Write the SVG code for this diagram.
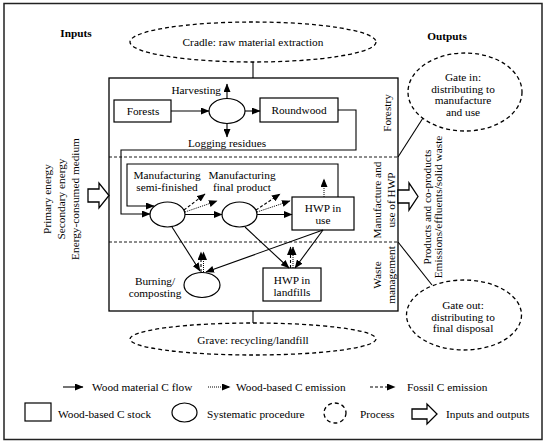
<svg xmlns="http://www.w3.org/2000/svg" width="550" height="444" viewBox="0 0 550 444" font-family="'Liberation Serif', 'Times New Roman', Times, serif">
<defs>
<marker id="ah" markerUnits="userSpaceOnUse" markerWidth="9" markerHeight="7" refX="8" refY="3.5" orient="auto">
<path d="M0,0 L8.5,3.5 L0,7 z" fill="#000"/>
</marker>
</defs>
<style>
text{font-family:'Liberation Serif','Times New Roman',Times,serif;font-size:11.3px;fill:#000}
.b{font-weight:bold}
.m{text-anchor:middle}
.box{fill:#fff;stroke:#000;stroke-width:1.2}
.proc{fill:#fff;stroke:#000;stroke-width:1.2}
.dash{fill:none;stroke:#000;stroke-width:1.3;stroke-dasharray:4,3}
.ln{fill:none;stroke:#000;stroke-width:1.1}
.fl{fill:none;stroke:#000;stroke-width:1.1;marker-end:url(#ah)}
.dot{fill:none;stroke:#000;stroke-width:1;stroke-dasharray:1,1;marker-end:url(#ah)}
.fos{fill:none;stroke:#000;stroke-width:1.1;stroke-dasharray:3,2;marker-end:url(#ah)}
.sec{fill:none;stroke:#000;stroke-width:0.9;stroke-dasharray:3,2}
.blk{fill:#fff;stroke:#000;stroke-width:1.3}
</style>
<rect x="0" y="0" width="550" height="444" fill="#fff"/>
<rect x="4" y="3.5" width="538" height="436" fill="none" stroke="#222" stroke-width="1.5"/>

<g id="frame">
<rect x="109" y="78" width="289" height="233" fill="none" stroke="#000" stroke-width="1.3"/>
<line class="sec" x1="109" y1="157" x2="398" y2="157"/>
<line class="sec" x1="109" y1="242" x2="398" y2="242"/>
</g>

<g id="labels">
<text class="b m" x="76" y="37">Inputs</text>
<text class="b m" x="447" y="40">Outputs</text>
<text class="m" transform="translate(51,199) rotate(-90)">Primary energy</text>
<text class="m" transform="translate(65,199) rotate(-90)">Secondary energy</text>
<text class="m" transform="translate(79,199) rotate(-90)">Energy-consumed medium</text>
<text class="m" transform="translate(391,113) rotate(-90)">Forestry</text>
<text class="m" transform="translate(381,200) rotate(-90)">Manufacture and</text>
<text class="m" transform="translate(395,200) rotate(-90)">use of HWP</text>
<text class="m" transform="translate(381,275) rotate(-90)">Waste</text>
<text class="m" transform="translate(394.5,275) rotate(-90)">management</text>
<text class="m" transform="translate(431,207) rotate(-90)">Products and co-products</text>
<text class="m" transform="translate(442,207) rotate(-90)">Emissions/effluents/solid waste</text>
</g>

<g id="cradle">
<ellipse class="dash" cx="253" cy="42" rx="123" ry="20"/>
<text class="m" x="253" y="46">Cradle: raw material extraction</text>
</g>
<g id="grave">
<ellipse class="dash" cx="253" cy="339" rx="123" ry="16"/>
<text class="m" x="253" y="344">Grave: recycling/landfill</text>
</g>
<g id="gate-in">
<ellipse class="dash" cx="465" cy="92" rx="57" ry="39"/>
<text class="m" x="463" y="81">Gate in:</text>
<text class="m" x="463" y="92.5">distributing to</text>
<text class="m" x="463" y="104">manufacture</text>
<text class="m" x="463" y="115.5">and use</text>
</g>
<g id="gate-out">
<ellipse class="dash" cx="464" cy="315" rx="57.5" ry="35"/>
<text class="m" x="463" y="309">Gate out:</text>
<text class="m" x="463" y="320.5">distributing to</text>
<text class="m" x="463" y="332">final disposal</text>
</g>

<g id="input-arrow">
<polygon class="blk" points="88,189 99,189 99,183 109,195.5 99,208 99,202 88,202"/>
</g>
<g id="output-arrow">
<polygon class="blk" points="398,190 409,190 409,183 418,196.5 409,210 409,203 398,203"/>
</g>

<g id="forests"><rect class="box" x="114" y="100" width="57" height="22"/><text class="m" x="143" y="115">Forests</text></g>
<g id="harvesting"><ellipse class="proc" cx="227" cy="111" rx="18" ry="12.5"/>
<text x="221" y="94" text-anchor="end">Harvesting</text>
<text class="m" x="227" y="147">Logging residues</text></g>
<g id="roundwood"><rect class="box" x="260" y="98" width="78" height="24"/><text class="m" x="299" y="114">Roundwood</text></g>
<g id="semi-finished"><ellipse class="proc" cx="167.5" cy="214.5" rx="17.5" ry="12.5"/>
<text class="m" x="167" y="179">Manufacturing</text><text class="m" x="167" y="191">semi-finished</text></g>
<g id="final-product"><ellipse class="proc" cx="239.5" cy="214.5" rx="17.5" ry="12.5"/>
<text class="m" x="242" y="179">Manufacturing</text><text class="m" x="242" y="191">final product</text></g>
<g id="hwp-in-use"><rect class="box" x="292" y="197" width="62" height="33"/>
<text class="m" x="323" y="212">HWP in</text><text class="m" x="323" y="224">use</text></g>
<g id="burning"><ellipse class="proc" cx="202" cy="285" rx="18" ry="12.5"/>
<text class="m" x="155" y="285">Burning/</text><text class="m" x="155" y="297">composting</text></g>
<g id="landfills"><rect class="box" x="263" y="268" width="58" height="33"/>
<text class="m" x="292" y="284">HWP in</text><text class="m" x="292" y="296">landfills</text></g>

<g id="connectors">
<line class="ln" x1="253" y1="62" x2="253" y2="78"/>
<line class="ln" x1="253" y1="311" x2="253" y2="323"/>
<line class="ln" x1="423" y1="118" x2="398" y2="157"/>
<line class="ln" x1="398" y1="242" x2="432" y2="285"/>
<line class="fl" x1="171" y1="111" x2="209" y2="111"/>
<line class="fl" x1="227" y1="98.5" x2="227" y2="84"/>
<line class="fl" x1="227" y1="123.5" x2="227" y2="137"/>
<line class="fl" x1="245" y1="111" x2="260" y2="111"/>
<polyline class="fl" points="338,110 356,110 356,150 121,150 121,214 150,214"/>
<polyline class="fl" points="338,197 338,164 127,164 127,206 154,206"/>
<line class="fl" x1="185" y1="214.5" x2="222" y2="214.5"/>
<line class="fl" x1="257" y1="214.5" x2="292" y2="214.5"/>
<line class="fos" x1="184" y1="210" x2="205" y2="194"/>
<line class="dot" x1="185" y1="212" x2="217" y2="201"/>
<line class="fos" x1="256" y1="210" x2="280" y2="194"/>
<line class="dot" x1="257" y1="212" x2="290" y2="201"/>
<line class="dot" x1="324" y1="197" x2="324" y2="179"/>
<line class="fl" x1="172" y1="227" x2="200" y2="271"/>
<line class="fl" x1="245" y1="227" x2="289" y2="268"/>
<line class="fl" x1="323" y1="230" x2="206" y2="272"/>
<line class="fl" x1="323" y1="230" x2="295" y2="268"/>
<line class="fos" x1="201" y1="272" x2="201" y2="252"/>
<line class="dot" x1="203.5" y1="272" x2="203.5" y2="252"/>
<line class="fos" x1="290.5" y1="268" x2="290.5" y2="247"/>
<line class="dot" x1="293" y1="268" x2="293" y2="247"/>
</g>

<g id="legend">
<line class="fl" x1="63" y1="387" x2="83" y2="387"/>
<text x="92" y="391">Wood material C flow</text>
<line class="dot" x1="208" y1="387" x2="230" y2="387"/>
<text x="236" y="391">Wood-based C emission</text>
<line class="fos" x1="370" y1="387" x2="395" y2="387"/>
<text x="407" y="391">Fossil C emission</text>
<rect class="box" x="25" y="403" width="26" height="18"/>
<text x="58" y="418">Wood-based C stock</text>
<ellipse class="proc" cx="184.5" cy="412.5" rx="12.5" ry="9.5"/>
<text x="207" y="418">Systematic procedure</text>
<ellipse class="dash" cx="335" cy="413" rx="11" ry="10" stroke-width="1.1" stroke-dasharray="3,2.5"/>
<text x="360" y="418">Process</text>
<polygon class="blk" points="412,409 427,409 427,404 437,414 427,424 427,419 412,419"/>
<text x="446" y="418">Inputs and outputs</text>
</g>
</svg>
